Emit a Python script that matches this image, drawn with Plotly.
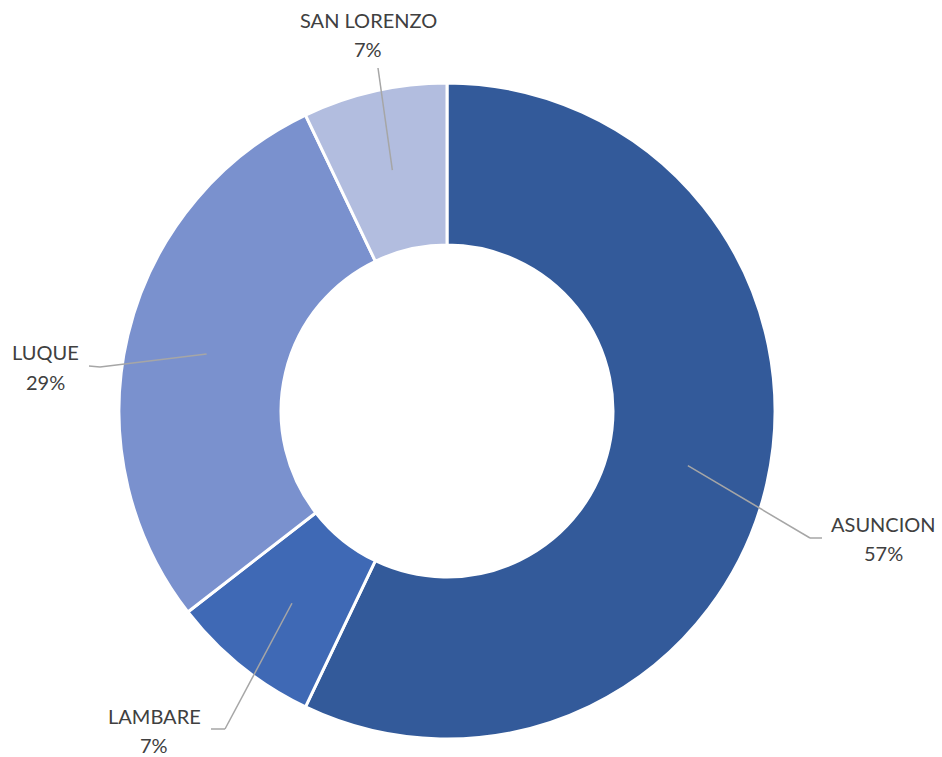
import math
import plotly.graph_objects as go

# data
cities = ["ASUNCION", "LAMBARE", "LUQUE", "SAN LORENZO"]
shares = [57.1, 7.4, 28.4, 7.1]
pct_labels = ["57%", "7%", "29%", "7%"]
colors = ["#335A9A", "#3F69B5", "#7A91CE", "#B2BDDF"]

W, H = 942, 757
CX, CY, R = 447, 411, 328
HOLE = 0.506

# label placement (pixels): centre x, name y, percent y
label_pos = {
    "ASUNCION": (883, 524, 553),
    "LAMBARE": (154, 716, 745),
    "LUQUE": (45, 352, 382),
    "SAN LORENZO": (368, 20, 49),
}
leader_pts = {
    "ASUNCION": [(810, 538), (822, 538)],
    "LAMBARE": [(225, 729), (211, 729)],
    "LUQUE": [(100, 367), (89, 366)],
    "SAN LORENZO": [(378, 68)],
}


def px(x, y):
    return x / W, 1 - y / H


fig = go.Figure()
fig.add_trace(go.Pie(
    labels=cities,
    values=shares,
    hole=HOLE,
    sort=False,
    direction="clockwise",
    rotation=0,
    marker=dict(colors=colors, line=dict(color="white", width=3)),
    textinfo="none",
    showlegend=False,
    domain=dict(x=[(CX - R) / W, (CX + R) / W], y=[1 - (CY + R) / H, 1 - (CY - R) / H]),
))

shapes = []
annotations = []
total = sum(shares)
cum = 0
rmid = R * (1 + HOLE) / 2
font = dict(family="Lato, Open Sans, sans-serif", size=20, color="#404040")
for city, v, pct in zip(cities, shares, pct_labels):
    mid = (cum + v / 2) / total * 2 * math.pi
    cum += v
    sx = CX + rmid * math.sin(mid)
    sy = CY - rmid * math.cos(mid)
    pts = [(sx, sy)] + leader_pts[city]
    for (x0, y0), (x1, y1) in zip(pts[:-1], pts[1:]):
        a0, b0 = px(x0, y0)
        a1, b1 = px(x1, y1)
        shapes.append(dict(type="line", xref="paper", yref="paper",
                           x0=a0, y0=b0, x1=a1, y1=b1,
                           line=dict(color="#A6A6A6", width=1.5)))
    lx, ny, py = label_pos[city]
    for txt, ty in ((city, ny), (pct, py)):
        ax, ay = px(lx, ty)
        annotations.append(dict(
            text=txt, x=ax, y=ay, xref="paper", yref="paper",
            xanchor="center", yanchor="middle", showarrow=False,
            font=font,
        ))

fig.update_layout(
    width=W, height=H,
    margin=dict(l=0, r=0, t=0, b=0),
    paper_bgcolor="white",
    plot_bgcolor="white",
    shapes=shapes,
    annotations=annotations,
)

fig.write_html("out.html", config={"displayModeBar": False},
               post_script="document.body.style.margin='0';")
